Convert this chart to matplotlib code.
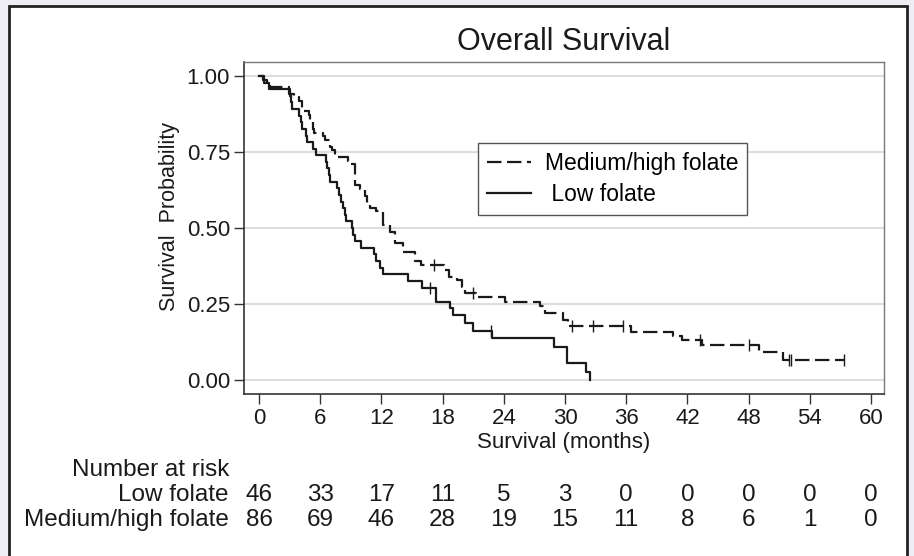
import numpy as np
import matplotlib.pyplot as plt
from matplotlib.patches import Rectangle
from matplotlib.transforms import blended_transform_factory

plt.rcParams['font.family'] = ['Liberation Sans', 'DejaVu Sans']

# Kaplan-Meier steps (time in months, survival after the step)
low_t = [0, 0.5, 1.0, 3.0, 3.1, 3.2, 3.9, 4.1, 4.2, 4.6, 4.7, 5.3, 5.6, 6.6, 6.7, 6.9, 7.0,
         7.6, 7.8, 8.0, 8.2, 8.4, 8.5, 9.1, 9.2, 9.4, 10.0, 11.3, 11.5, 11.9, 12.2, 14.6,
         16.0, 17.4, 18.7, 19.0, 20.2, 21.0, 22.8, 28.9, 30.2, 32.1, 32.45]
low_s = [1.0, 0.978, 0.957, 0.935, 0.913, 0.891, 0.870, 0.848, 0.826, 0.804, 0.783, 0.761,
         0.739, 0.717, 0.696, 0.674, 0.652, 0.630, 0.609, 0.587, 0.565, 0.543, 0.522, 0.500,
         0.478, 0.457, 0.435, 0.413, 0.391, 0.370, 0.348, 0.326, 0.304, 0.258, 0.236, 0.214,
         0.187, 0.162, 0.137, 0.110, 0.057, 0.028, 0.0]
low_censor = [16.8, 22.7]

med_t = [0, 0.4, 0.8, 1.1, 2.9, 3.4, 3.9, 4.2, 4.3, 4.9, 5.0, 5.3, 5.4, 6.3, 6.5, 7.0, 7.2,
         7.45, 8.7, 8.8, 9.4, 9.9, 10.4, 10.55, 10.9, 11.5, 12.2, 12.8, 13.3, 14.15, 15.3,
         15.9, 18.1, 18.6, 19.4, 19.9, 20.2, 21.3, 24.1, 27.5, 28.0, 29.8, 30.3, 36.5, 40.6,
         41.5, 43.4, 49.0, 51.4]
med_s = [1.0, 0.988, 0.977, 0.965, 0.942, 0.930, 0.919, 0.895, 0.884, 0.872, 0.849, 0.826,
         0.814, 0.802, 0.791, 0.768, 0.756, 0.733, 0.721, 0.709, 0.640, 0.628, 0.605, 0.580,
         0.567, 0.555, 0.510, 0.488, 0.452, 0.420, 0.390, 0.378, 0.362, 0.340, 0.329, 0.307,
         0.285, 0.274, 0.258, 0.245, 0.219, 0.197, 0.178, 0.159, 0.145, 0.130, 0.115, 0.093,
         0.066]
med_end = 57.3
med_censor = [17.2, 21.0, 30.7, 32.7, 35.7, 43.2, 48.0, 52.0, 52.2, 57.3]

risk_times = [0, 6, 12, 18, 24, 30, 36, 42, 48, 54, 60]
risk_low = [46, 33, 17, 11, 5, 3, 0, 0, 0, 0, 0]
risk_med = [86, 69, 46, 28, 19, 15, 11, 8, 6, 1, 0]

INK = '#1a1a1a'


def surv_at(times, surv, t):
    idx = np.searchsorted(times, t, side='right') - 1
    return np.asarray(surv)[idx]


fig = plt.figure(figsize=(9.14, 5.56), dpi=100, facecolor='#eeedf3')
fig.add_artist(Rectangle((9 / 914, -0.05), 898 / 914, 1.05 - 6 / 556,
                         transform=fig.transFigure, facecolor='white',
                         edgecolor='#222222', linewidth=2, zorder=0))

ax = fig.add_axes([244 / 914, 1 - 394 / 556, 640 / 914, 332 / 556])
ax.set_facecolor('white')

ax.set_xlim(-1.47, 61.27)
ax.set_ylim(-0.046, 1.046)
ax.set_yticks([0, 0.25, 0.5, 0.75, 1.0])
ax.set_yticklabels(['0.00', '0.25', '0.50', '0.75', '1.00'])
ax.set_xticks(risk_times)
ax.grid(axis='y', color='#dddddd', linewidth=1.5, zorder=0)
ax.tick_params(direction='out', length=7, width=1, colors='#333333',
               labelsize=16, labelcolor=INK, pad=3)
for side in ['left', 'bottom']:
    ax.spines[side].set_color('#333333')
    ax.spines[side].set_linewidth(1.2)
for side in ['top', 'right']:
    ax.spines[side].set_color('#777777')
    ax.spines[side].set_linewidth(1.0)

# curves
ax.plot(med_t + [med_end], med_s + [med_s[-1]], drawstyle='steps-post', color=INK,
        linewidth=1.6, dashes=(6.5, 2.5), label='Medium/high folate', zorder=3)
ax.plot(low_t, low_s, drawstyle='steps-post', color=INK, linewidth=1.6,
        label=' Low folate', zorder=3)

# censoring ticks
ax.plot(med_censor, surv_at(med_t, med_s, med_censor), linestyle='none', marker='|',
        markersize=8, color=INK, markeredgewidth=1, zorder=3)
ax.plot(low_censor, surv_at(low_t, low_s, low_censor), linestyle='none', marker='|',
        markersize=9, color=INK, markeredgewidth=1, zorder=3)

ax.set_title('Overall Survival', fontsize=22, color=INK, pad=9)
ax.set_xlabel('Survival (months)', fontsize=16, color=INK, labelpad=2)
ax.set_ylabel('Survival  Probability', fontsize=15.5, color=INK)
ax.yaxis.set_label_coords(-0.1, 0.536)

leg = ax.legend(loc='upper left', bbox_to_anchor=(0.366, 0.756), fontsize=16.5,
                frameon=True, fancybox=False, edgecolor='#555555', framealpha=1,
                handlelength=1.9, handletextpad=0.6, labelspacing=0.35,
                borderpad=0.4, borderaxespad=0)
leg.get_frame().set_linewidth(1.0)

# number at risk table
risk_trans = blended_transform_factory(ax.transData, fig.transFigure)
fig.text(229 / 914, 1 - 470 / 556, 'Number at risk', ha='right', va='center',
         fontsize=17.5, color=INK)
for row_y, name, counts in [(495, 'Low folate', risk_low),
                            (520, 'Medium/high folate', risk_med)]:
    fy = 1 - row_y / 556
    fig.text(229 / 914, fy, name, ha='right', va='center', fontsize=17.5, color=INK)
    for t, n in zip(risk_times, counts):
        fig.text(t, fy, str(n), ha='center', va='center', fontsize=17.5, color=INK,
                 transform=risk_trans)

fig.savefig('out.png', dpi=100, facecolor=fig.get_facecolor())
